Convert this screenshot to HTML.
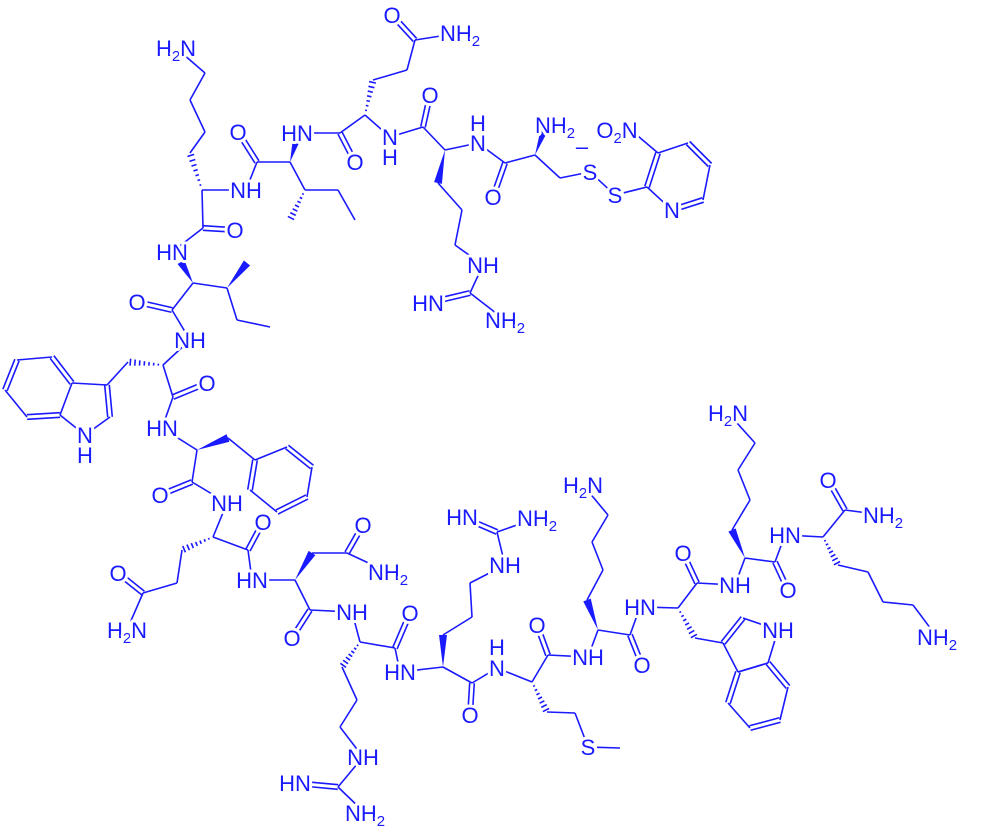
<!DOCTYPE html>
<html><head><meta charset="utf-8">
<style>
html,body{margin:0;padding:0;background:#fff;}
svg{display:block}
text{font-family:"Liberation Sans",sans-serif;font-size:22px;fill:#1a1aff;stroke:#fff;stroke-width:6px;paint-order:stroke;stroke-linejoin:round;text-anchor:middle}
</style></head><body>
<svg id="s" width="1005" height="834" viewBox="0 0 1005 834" xmlns="http://www.w3.org/2000/svg"></svg>
<script>
var svg=document.getElementById('s'),NS='http://www.w3.org/2000/svg',C='#1a1aff';
var B=[
[176,48,205,73],[205,73,190,100],[190,100,205,132],[205,132,190,153],[202,190,190,153,'h'],
[202,190,246,190],[202,190,203,228],[203,228,235,230,'d'],[203,228,172,252],
[246,190,257,162],[257,162,238,132,'d'],[257,162,290,162],[290,162,297,138,'w'],[290,162,305,190],
[305,190,290,220,'h'],[305,190,338,190],[338,190,355,220],
[297,133,340,133],[340,133,355,162,'d'],[340,133,365,115],
[365,115,373,80,'h'],[373,80,407,70],[407,70,415,40],[415,40,392,15,'d'],[415,40,460,33],
[365,115,390,137],[390,137,423,127],[423,127,430,95,'d'],[423,127,445,150],
[445,150,478,143],[445,150,438,183,'w'],[438,183,462,210],[462,210,455,245],[455,245,483,265],
[483,265,470,293],[470,293,428,303,'d'],[470,293,505,320],
[478,143,505,163],[505,163,493,197,'d'],[505,163,535,155],[535,155,545,128,'w'],[535,155,560,178],
[560,178,590,172],[590,172,615,195],[615,195,647,187],
[647,187,658,153,'d'],[658,153,688,143],[688,143,710,165,'d'],[710,165,703,200],[703,200,672,210,'d'],[672,210,647,187],[658,153,632,131],
[193,283,181,262,'w'],[193,283,227,288],[227,288,247,263,'w'],[227,288,237,320],[237,320,270,327],
[193,283,172,310],[172,310,137,302,'d'],[172,310,190,340],
[190,340,163,365],[163,365,128,362,'h'],[128,362,107,385],
[163,365,173,397],[173,397,207,383,'d'],[173,397,162,428],
[107,385,110,417,'d'],[110,417,85,435],[85,435,60,415],[60,415,72,383],[72,383,107,385],
[72,383,52,357,'d'],[52,357,17,360],[17,360,5,390,'d'],[5,390,27,417],[27,417,60,415,'d'],
[162,428,197,450],[197,450,228,438,'w'],[228,438,255,460],
[255,460,287,447],[287,447,312,467,'d'],[312,467,307,497],[307,497,277,512,'d'],[277,512,250,490],[250,490,255,460,'d'],
[197,450,192,482],[192,482,160,495,'d'],[192,482,227,503],
[227,503,213,537],[213,537,248,550],[248,550,263,522,'d'],[213,537,182,550,'h'],[182,550,177,583],[177,583,143,593],[143,593,118,573,'d'],[143,593,127,630],
[248,550,252,580],[252,580,295,580],[295,580,312,553,'w'],[312,553,347,553],[347,553,363,525,'d'],[347,553,388,572],
[295,580,310,610],[310,610,292,638,'d'],[310,610,352,612],
[352,612,360,642],[360,642,395,648],[395,648,410,613,'d'],[395,648,400,672],
[360,642,342,667,'h'],[342,667,357,700],[357,700,340,727],[340,727,363,757],[363,757,338,787],[338,787,295,783,'d'],[338,787,365,813],
[400,672,443,667],[443,667,443,635,'w'],[443,635,472,617],[472,617,470,583],[470,583,505,565],[505,565,497,532],[497,532,462,517,'d'],[497,532,537,518],
[443,667,472,683],[472,683,470,715,'d'],[472,683,497,668],
[497,668,532,682],[532,682,547,712,'h'],[547,712,575,713],[575,713,588,747],[588,747,620,748],
[532,682,548,655],[548,655,537,625,'d'],[548,655,588,657],
[588,657,598,630],[598,630,587,600,'w'],[587,600,603,570],[603,570,592,542],[592,542,608,515],[608,515,583,485],
[598,630,630,635],[630,635,642,665,'d'],[630,635,640,607],
[640,607,678,608],[678,608,697,583],[697,583,683,553,'d'],[697,583,735,585],
[678,608,695,638,'h'],[695,638,723,643],[723,643,743,618,'d'],[743,618,778,630],[778,630,768,663],[768,663,738,672],[738,672,723,643],
[738,672,768,663],[768,663,788,687,'d'],[788,687,780,720],[780,720,750,728,'d'],[750,728,728,703],[728,703,738,672,'d'],
[735,585,745,558],[745,558,732,530,'w'],[732,530,750,500],[750,500,738,470],[738,470,755,443],[755,443,728,413],
[745,558,775,562],[775,562,788,590,'d'],[775,562,785,535],
[785,535,823,537],[823,537,845,510],[845,510,828,480,'d'],[845,510,883,515],
[823,537,838,565,'h'],[838,565,868,572],[868,572,883,602],[883,602,913,605],[913,605,937,637]
];
var T=[
['H|2|N',176,48],['O',238,132],['HN',297,133],['NH',246,190],['O',235,230],['HN',172,252],['O',355,162],
['N',390,137],['H',390,157],['O',392,15],['NH|2',460,33],['O',430,95],['H',478,123],['N',478,143],
['O',493,197],['NH|2',555,125],['–',582,146],['O|2|N',617,130],['S',590,172],['S',615,195],['N',672,210],
['NH',483,265],['HN',428,303],['NH|2',505,320],['O',137,302],['NH',190,340],['O',207,383],
['N',85,435],['H',85,455],['HN',162,428],['O',160,495],['NH',227,503],['O',263,522],['O',118,573],['H|2|N',127,630],
['HN',252,580],['O',363,525],['NH|2',388,572],['O',292,638],['NH',352,612],['O',410,613],['HN',400,672],
['NH',363,757],['HN',295,783],['NH|2',365,813],['HN',462,517],['NH|2',537,518],['NH',505,565],
['O',470,715],['H',497,647],['N',497,668],['S',588,747],['O',537,625],['NH',588,657],['H|2|N',583,485],
['O',642,665],['HN',640,607],['O',683,553],['NH',735,585],['NH',778,630],['H|2|N',728,413],['O',788,590],
['HN',785,535],['O',828,480],['NH|2',883,515],['NH|2',937,637]
];
function isLab(x,y){for(var i=0;i<T.length;i++){if(Math.abs(T[i][1]-x)<3&&Math.abs(T[i][2]-y)<3&&T[i][0]!=='H')return true;}return false;}
function ln(a,b,c,d){var e=document.createElementNS(NS,'line');e.setAttribute('x1',a);e.setAttribute('y1',b);e.setAttribute('x2',c);e.setAttribute('y2',d);e.setAttribute('stroke',C);e.setAttribute('stroke-width','1.6');svg.appendChild(e);}
B.forEach(function(b){var x1=b[0],y1=b[1],x2=b[2],y2=b[3],t=b[4];var dx=x2-x1,dy=y2-y1,L=Math.hypot(dx,dy),ux=dx/L,uy=dy/L,px=-uy,py=ux;
var tr=9;
if(isLab(x1,y1)){x1+=ux*tr;y1+=uy*tr;}
if(isLab(x2,y2)){x2-=ux*tr;y2-=uy*tr;}
dx=x2-x1;dy=y2-y1;
if(t==='d'){ln(x1+px*2.3,y1+py*2.3,x2+px*2.3,y2+py*2.3);ln(x1-px*2.3,y1-py*2.3,x2-px*2.3,y2-py*2.3);}
else if(t==='w'){var p=document.createElementNS(NS,'polygon');p.setAttribute('points',x1+','+y1+' '+(x2+px*4)+','+(y2+py*4)+' '+(x2-px*4)+','+(y2-py*4));p.setAttribute('fill',C);svg.appendChild(p);}
else if(t==='h'){var n=7;for(var i=1;i<=n;i++){var f=i/(n+0.5),w=0.5+3.2*f,cx=x1+dx*f,cy=y1+dy*f;ln(cx+px*w,cy+py*w,cx-px*w,cy-py*w);}}
else ln(x1,y1,x2,y2);});
T.forEach(function(t){var e=document.createElementNS(NS,'text');e.setAttribute('x',t[1]);e.setAttribute('y',t[2]+8);
var parts=t[0].split('|');parts.forEach(function(p,i){var s=document.createElementNS(NS,'tspan');s.textContent=p;
if(i%2==1){s.setAttribute('font-size','15');s.setAttribute('dy','5');}else if(i>0){s.setAttribute('dy','-5');}e.appendChild(s);});
svg.appendChild(e);});
</script>
</body></html>
